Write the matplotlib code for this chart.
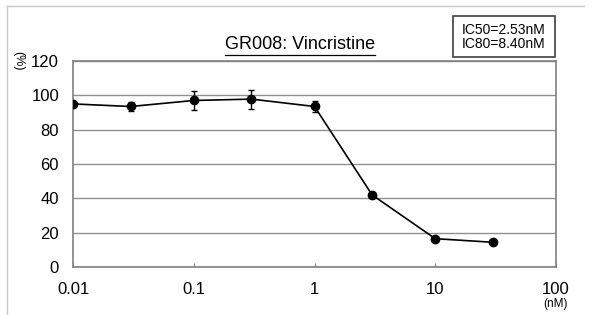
import matplotlib
matplotlib.use("Agg")
import matplotlib.pyplot as plt
from matplotlib.patches import Rectangle

plt.rcParams['font.family'] = ['Liberation Sans', 'DejaVu Sans']

# データ (読み取り値)
conc = [0.01, 0.03, 0.1, 0.3, 1, 3, 10, 30]
viability = [95.0, 93.5, 97.0, 97.8, 93.5, 42.0, 16.5, 14.4]
err = [0, 2.8, 5.8, 5.5, 3.0, 0, 0, 0]
x_ticks = [0.01, 0.1, 1, 10, 100]
x_ticklabels = ["0.01", "0.1", "1", "10", "100"]
y_ticks = [0, 20, 40, 60, 80, 100, 120]

fig = plt.figure(figsize=(5.96, 3.15), dpi=100)
ax = fig.add_axes([73/596, 48/315, (556-73)/596, (267-61)/315])

ax.errorbar(conc, viability, yerr=err, color="black", marker="o", markersize=6,
            linewidth=1.2, elinewidth=1.0, capsize=2.5, capthick=1.0, zorder=3)

ax.set_xscale("log")
ax.set_xlim(0.01, 100)
ax.set_ylim(0, 120)
ax.set_xticks(x_ticks)
ax.set_xticklabels(x_ticklabels)
ax.xaxis.set_minor_locator(matplotlib.ticker.NullLocator())
ax.set_yticks(y_ticks)
ax.tick_params(axis="x", direction="in", length=3, color="#808080", labelsize=12, pad=11)
ax.tick_params(axis="y", length=0, labelsize=12, pad=10)
ax.grid(axis="y", color="#909090", linewidth=1.0)
for s in ax.spines.values():
    s.set_color("#808080")
    s.set_linewidth(1.2)

# 下線付きタイトル
t = fig.text(300/596, 1 - 44.5/315, "GR008: Vincristine", fontsize=13, ha="center", va="center")
fig.canvas.draw()
bb = t.get_window_extent().transformed(fig.transFigure.inverted())
fig.add_artist(plt.Line2D([bb.x0, bb.x1], [1 - 55/315, 1 - 55/315], color="black", linewidth=0.9))

fig.text(18/596, 1 - 61/315, "(%)", fontsize=9, rotation=-90, ha="center", va="center")
fig.text(556/596, 1 - 304/315, "(nM)", fontsize=8.5, ha="center", va="center")

# IC50/IC80 ボックス
fig.add_artist(Rectangle((453/596, 1 - 57/315), (555-453)/596, (57-16)/315,
                         fill=False, edgecolor="#404040", linewidth=1.2))
fig.text(504/596, 1 - 37/315, "IC50=2.53nM\nIC80=8.40nM", fontsize=10,
         ha="center", va="center", linespacing=1.05)

# 外枠 (上と左)
fig.add_artist(plt.Line2D([7/596, 584/596], [1 - 6/315, 1 - 6/315], color="#c8c8c8", linewidth=1))
fig.add_artist(plt.Line2D([7/596, 7/596], [0, 1 - 6/315], color="#c8c8c8", linewidth=1))

fig.savefig("out.png", dpi=100)
